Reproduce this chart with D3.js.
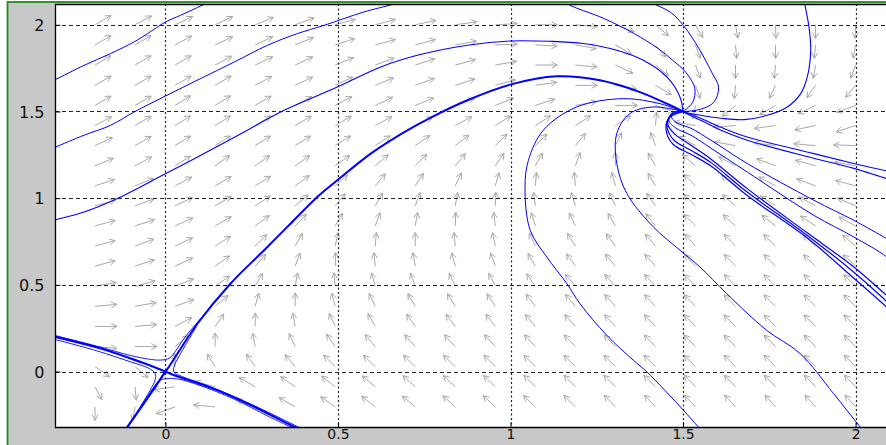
<!DOCTYPE html>
<html>
<head>
<meta charset="utf-8">
<script src="https://cdn.jsdelivr.net/npm/d3@7"></script>
<style>
  html, body { margin: 0; padding: 0; background: #ffffff; overflow: hidden; }
  svg { display: block; }
</style>
</head>
<body>
<svg id="chart" width="886" height="445"></svg>
<script>
// ---- axis ticks -------------------------------------------------------
const xTickValues = [0, 0.5, 1, 1.5, 2];
const yTickValues = [0, 0.5, 1, 1.5, 2];
const tickText = ["0", "0.5", "1", "1.5", "2"];

// ---- direction field: grid points and arrow headings (degrees, as drawn) --
const fieldX = [-0.204, -0.088, 0.028, 0.144, 0.260, 0.376, 0.492, 0.608, 0.724, 0.840,
                0.956, 1.072, 1.188, 1.304, 1.420, 1.536, 1.652, 1.768, 1.884, 2.000];
const fieldY = [2.000, 1.884, 1.768, 1.651, 1.535, 1.419, 1.303, 1.187, 1.071, 0.956,
                0.840, 0.724, 0.608, 0.492, 0.376, 0.260, 0.144, 0.028, -0.088, -0.204];
const fieldHeading = [
  [30,28,25,25,22,20,15,15,12,8,3,0,-5,-20,-40,-60,-80,-88,-90,-92],
  [30,30,28,25,25,22,18,15,15,10,2,-3,-10,-30,-50,-70,-85,-90,-95,-100],
  [30,30,30,28,25,25,22,20,18,15,10,0,-5,-25,-40,-70,-90,-95,-100,-110],
  [30,30,30,30,28,25,25,22,20,18,15,8,0,-10,-30,-70,-95,-115,-125,-130],
  [30,30,32,32,30,28,28,25,22,20,22,18,10,0,-20,-100,-140,-150,-155,-160],
  [28,30,32,32,32,30,30,28,26,28,32,33,33,32,85,170,185,188,192,198],
  [25,30,32,32,32,32,32,33,35,38,45,45,50,65,110,150,170,172,175,178],
  [22,28,32,35,35,35,35,40,45,50,55,60,70,90,120,140,152,160,165,170],
  [18,22,28,30,32,36,42,50,57,65,75,85,95,105,120,135,143,152,160,165],
  [15,20,25,30,33,40,50,60,70,80,88,97,107,115,125,135,140,147,152,157],
  [15,18,24,30,36,46,60,70,80,88,97,107,115,120,128,135,138,142,147,152],
  [15,20,25,32,45,60,78,85,90,95,102,115,122,127,130,132,134,136,138,140],
  [15,18,25,35,48,70,88,95,100,105,110,120,126,130,132,133,134,135,137,138],
  [10,15,22,35,60,80,95,105,110,115,117,125,130,132,133,134,134,135,135,136],
  [5,10,20,40,75,90,105,115,120,122,124,127,130,132,133,134,135,135,135,136],
  [0,5,28,55,90,100,115,120,125,127,128,130,132,133,134,134,135,135,135,135],
  [-5,0,40,90,100,115,125,130,132,133,133,133,134,134,134,135,135,135,135,135],
  [-35,-40,92,122,125,130,135,136,136,136,135,135,135,135,135,135,135,135,135,135],
  [-62,-85,188,165,150,145,142,140,138,137,136,135,135,135,135,134,134,134,134,134],
  [-90,-100,200,175,158,150,145,142,140,138,137,136,135,134,133,133,133,132,132,132]
];

// ---- solution curves (x, y) ------------------------------------------
const orbitA = [[-0.33,1.678],[-0.318,1.686],[-0.236,1.766],[-0.159,1.834],[-0.091,1.901],
  [-0.052,1.949],[0.0,2.016],[0.044,2.055],[0.107,2.113],[0.13,2.135]];
const orbitB = [[-0.33,1.285],[-0.318,1.295],[-0.236,1.363],[-0.159,1.420],[-0.091,1.497],
  [0.0,1.589],[0.102,1.690],[0.199,1.785],[0.296,1.882],[0.382,1.949],[0.460,1.997],
  [0.575,2.074],[0.648,2.112],[0.67,2.125]];
const orbitC = [[-0.33,0.868],[-0.318,0.875],[-0.236,0.920],[-0.139,0.998],[0.001,1.142],
  [0.112,1.257],[0.228,1.382],[0.344,1.507],[0.498,1.641],[0.624,1.757],[0.730,1.824],
  [0.875,1.882],[0.999,1.907],[1.114,1.905],[1.211,1.892],[1.308,1.853],[1.385,1.795],
  [1.453,1.699],[1.491,1.584],[1.5,1.5]];
const orbitD = [[1.160,2.135],[1.168,2.118],[1.270,2.037],[1.357,1.951],[1.427,1.864],
  [1.470,1.795],[1.508,1.726],[1.534,1.634],[1.528,1.553],[1.505,1.507],[1.5,1.5]];
const orbitE = [[1.405,2.135],[1.419,2.118],[1.464,2.072],[1.501,1.997],[1.549,1.853],
  [1.583,1.726],[1.603,1.640],[1.589,1.553],[1.551,1.513],[1.511,1.501],[1.5,1.5]];
const orbitF = [[1.852,2.135],[1.853,2.118],[1.865,1.987],[1.870,1.853],[1.860,1.699],
  [1.841,1.603],[1.802,1.526],[1.744,1.478],[1.677,1.453],[1.610,1.461],[1.551,1.478],
  [1.505,1.495],[1.5,1.5]];
const orbitG = [[1.595,-0.425],[1.544,-0.319],[1.501,-0.223],[1.395,-0.002],[1.356,0.065],
  [1.279,0.209],[1.201,0.392],[1.163,0.508],[1.105,0.661],[1.057,0.815],[1.042,1.065],
  [1.052,1.219],[1.095,1.392],[1.192,1.526],[1.327,1.574],[1.433,1.545],[1.5,1.5]];
const orbitH = [[2.058,-0.425],[2.013,-0.319],[1.936,-0.127],[1.839,0.104],[1.742,0.238],
  [1.626,0.450],[1.549,0.603],[1.491,0.700],[1.414,0.834],[1.337,1.027],[1.308,1.200],
  [1.308,1.373],[1.346,1.488],[1.414,1.526],[1.5,1.5]];
const orbitR1 = [[2.122,1.144],[2.090,1.157],[1.995,1.200],[1.879,1.257],[1.686,1.353],
  [1.610,1.409],[1.551,1.461],[1.5,1.5]];
const orbitR2 = [[2.122,1.097],[2.090,1.113],[1.995,1.172],[1.879,1.230],[1.686,1.334],
  [1.610,1.392],[1.551,1.449],[1.508,1.490],[1.5,1.5]];
const orbitR3 = [[2.122,0.731],[2.090,0.767],[1.995,0.872],[1.879,0.988],[1.686,1.200],
  [1.581,1.334],[1.523,1.403],[1.480,1.437],[1.466,1.472],[1.483,1.501],[1.5,1.5]];
const orbitR4 = [[2.122,0.596],[2.090,0.661],[1.995,0.776],[1.879,0.901],[1.686,1.151],
  [1.581,1.288],[1.523,1.363],[1.480,1.403],[1.459,1.449],[1.471,1.495],[1.5,1.5]];
const orbitR5 = [[2.122,0.388],[2.090,0.440],[1.995,0.603],[1.860,0.800],[1.686,1.055],
  [1.581,1.225],[1.523,1.305],[1.477,1.368],[1.456,1.426],[1.466,1.484],[1.5,1.5]];
const orbitR6 = [[2.122,0.348],[2.090,0.405],[1.995,0.573],[1.860,0.785],[1.686,1.035],
  [1.581,1.205],[1.523,1.276],[1.474,1.334],[1.454,1.409],[1.462,1.472],[1.5,1.5]];
const orbitR7 = [[2.122,0.307],[2.090,0.371],[1.995,0.538],[1.860,0.770],[1.686,1.015],
  [1.581,1.185],[1.523,1.253],[1.471,1.311],[1.451,1.392],[1.459,1.461],[1.5,1.5]];
// saddle at the origin: unstable branches, stable branches and nearby orbits
const unstableUp = [[0,0],[0.010,0.027],[0.035,0.104],[0.093,0.277],[0.189,0.508],
  [0.286,0.700],[0.363,0.854],[0.440,1.007],[0.498,1.103],[0.595,1.257],[0.691,1.380],
  [0.769,1.465],[0.875,1.565],[0.999,1.655],[1.134,1.703],[1.259,1.680],[1.375,1.612],
  [1.453,1.545],[1.5,1.5]];
const unstableDown = [[0,0],[-0.043,-0.127],[-0.110,-0.319],[-0.13,-0.38]];
const stableLeft = [[-0.33,0.207],[-0.318,0.200],[-0.187,0.133],[-0.072,0.055],[0,0]];
const stableRight = [[0,0],[0.025,-0.021],[0.151,-0.108],[0.267,-0.213],[0.373,-0.319],[0.39,-0.335]];
const nearSaddle1 = [[-0.33,0.214],[-0.318,0.207],[-0.2,0.147],[-0.1,0.092],[-0.05,0.072],
  [-0.014,0.066],[0.012,0.078],[0.03,0.12],[0.05,0.18],[0.073,0.238],[0.1,0.3],[0.19,0.515]];
const nearSaddle2 = [[0.39,-0.345],[0.3,-0.26],[0.2,-0.16],[0.1,-0.08],[0.04,-0.045],
  [0.01,-0.04],[-0.015,-0.05],[-0.03,-0.08],[-0.06,-0.17],[-0.11,-0.32],[-0.13,-0.38]];
const nearSaddle3 = [[-0.33,0.19],[-0.2,0.12],[-0.1,0.055],[-0.05,0.02],[-0.03,-0.01],
  [-0.03,-0.05],[-0.045,-0.11],[-0.11,-0.325]];
const nearSaddle4 = [[0.39,-0.325],[0.25,-0.19],[0.12,-0.08],[0.05,-0.03],[0.025,-0.005],
  [0.025,0.03],[0.04,0.09],[0.09,0.26]];

// ---- layout -------------------------------------------------------------
const W = 886, H = 445;
const plot = { left: 55, top: 4, right: 897, bottom: 427 };

const x = d3.scaleLinear().domain([-0.32, 2.12]).range([plot.left, plot.right]);
const y = d3.scaleLinear().domain([-0.32, 2.12]).range([plot.bottom, plot.top]);

const svg = d3.select("#chart");

// figure frame
svg.append("rect").attr("x", 0).attr("y", 0).attr("width", W).attr("height", H).attr("fill", "#ffffff");
svg.append("rect").attr("x", 7.5).attr("y", 2).attr("width", W + 10).attr("height", H + 10)
  .attr("fill", "#c8c8c8").attr("stroke", "#1f8a1f").attr("stroke-width", 1.8);

// axes background
svg.append("rect")
  .attr("x", plot.left).attr("y", plot.top)
  .attr("width", plot.right - plot.left).attr("height", plot.bottom - plot.top)
  .attr("fill", "#ffffff");

svg.append("clipPath").attr("id", "plotClip")
  .append("rect")
  .attr("x", plot.left).attr("y", plot.top)
  .attr("width", plot.right - plot.left).attr("height", plot.bottom - plot.top);

const inner = svg.append("g").attr("clip-path", "url(#plotClip)");

// direction field: each arrow starts at its grid point; its drawn length
// follows an ellipse (longer across, shorter up and down)
const arrowA = 22, arrowB = 13.5;
const headLen = 6.5, headAng = 0.48;
const arrowPaths = [];
fieldY.forEach((yv, j) => {
  fieldX.forEach((xv, i) => {
    const t = fieldHeading[j][i] * Math.PI / 180;
    const c = Math.cos(t), s = Math.sin(t);
    const r = arrowA * arrowB / Math.hypot(arrowB * c, arrowA * s);
    const x0 = x(xv), y0 = y(yv);
    const x1 = x0 + r * c, y1 = y0 - r * s;
    const a = Math.atan2(y1 - y0, x1 - x0);
    const hx1 = x1 - headLen * Math.cos(a - headAng), hy1 = y1 - headLen * Math.sin(a - headAng);
    const hx2 = x1 - headLen * Math.cos(a + headAng), hy2 = y1 - headLen * Math.sin(a + headAng);
    arrowPaths.push(`M${x0},${y0}L${x1},${y1}M${hx1},${hy1}L${x1},${y1}L${hx2},${hy2}`);
  });
});
inner.append("g").selectAll("path").data(arrowPaths).join("path")
  .attr("d", d => d)
  .attr("fill", "none").attr("stroke", "#a9a9a9").attr("stroke-width", 1);

// grid
const grid = inner.append("g");
grid.selectAll("line.gx").data(xTickValues).join("line").attr("class", "gx")
  .attr("x1", d => Math.round(x(d)) + 0.5).attr("x2", d => Math.round(x(d)) + 0.5)
  .attr("y1", plot.top).attr("y2", plot.bottom)
  .attr("stroke", "#222").attr("stroke-width", 1.2).attr("stroke-dasharray", "2,2.5");
grid.selectAll("line.gy").data(yTickValues).join("line").attr("class", "gy")
  .attr("y1", d => Math.round(y(d)) + 0.5).attr("y2", d => Math.round(y(d)) + 0.5)
  .attr("x1", plot.left).attr("x2", plot.right)
  .attr("stroke", "#222").attr("stroke-width", 1).attr("stroke-dasharray", "4,3");

// solution curves
const line = d3.line().x(d => x(d[0])).y(d => y(d[1])).curve(d3.curveCatmullRom.alpha(0.5));
const curves = [
  { pts: orbitA, w: 1 }, { pts: orbitB, w: 1 }, { pts: orbitC, w: 1.1 },
  { pts: orbitD, w: 1 }, { pts: orbitE, w: 1 }, { pts: orbitF, w: 1.1 },
  { pts: orbitG, w: 1 }, { pts: orbitH, w: 1 },
  { pts: orbitR1, w: 1.1 }, { pts: orbitR2, w: 1.1 }, { pts: orbitR3, w: 1 },
  { pts: orbitR4, w: 1 }, { pts: orbitR5, w: 1.2 }, { pts: orbitR6, w: 1.2 }, { pts: orbitR7, w: 1.2 },
  { pts: nearSaddle1, w: 0.9 }, { pts: nearSaddle2, w: 0.9 },
  { pts: nearSaddle3, w: 0.9 }, { pts: nearSaddle4, w: 0.9 },
  { pts: unstableUp, w: 2 }, { pts: unstableDown, w: 2.2 },
  { pts: stableLeft, w: 2.2 }, { pts: stableRight, w: 2.2 }
];
inner.append("g").selectAll("path").data(curves).join("path")
  .attr("d", d => line(d.pts))
  .attr("fill", "none").attr("stroke", "#0000ff")
  .attr("stroke-width", d => d.w).attr("stroke-linejoin", "round");

// axes box
svg.append("path")
  .attr("d", `M${plot.right},${plot.top + 0.5}H${plot.left + 0.5}V${plot.bottom + 0.5}H${plot.right}`)
  .attr("fill", "none").attr("stroke", "#000").attr("stroke-width", 1.3);

// inward tick marks and labels
const xAxis = d3.axisBottom(x).tickValues(xTickValues)
  .tickFormat((d, i) => tickText[i]).tickSize(-5).tickPadding(2);
const yAxis = d3.axisLeft(y).tickValues(yTickValues)
  .tickFormat((d, i) => tickText[i]).tickSize(-5).tickPadding(11);

const gx = svg.append("g").attr("transform", `translate(0,${plot.bottom + 0.5})`).call(xAxis);
const gy = svg.append("g").attr("transform", `translate(${plot.left + 0.5},0)`).call(yAxis);
[gx, gy].forEach(g => {
  g.select(".domain").remove();
  g.selectAll("line").attr("stroke", "#000");
  g.selectAll("text").attr("fill", "#111")
    .style("font-family", "'DejaVu Sans', 'Liberation Sans', Arial, sans-serif");
});
gy.selectAll("text").style("font-size", "16px").attr("dy", "0.36em");
gx.selectAll("text").style("font-size", "14px").attr("dy", "0.71em");
</script>
</body>
</html>
